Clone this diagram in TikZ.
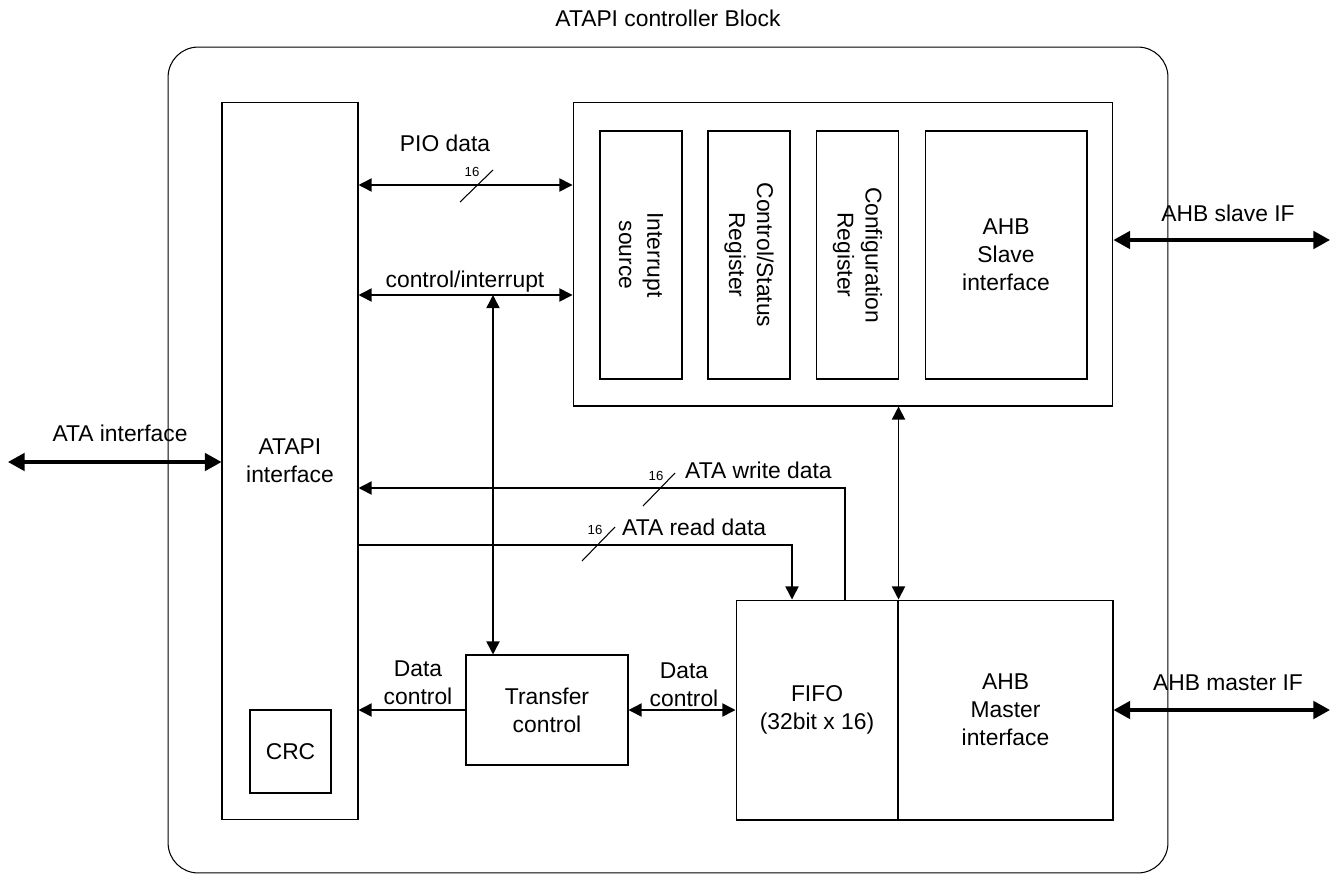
\documentclass[tikz,border=0pt]{standalone}
\usepackage{fontspec}
\setmainfont{Liberation Sans}
\usepackage{tikz}
\usetikzlibrary{arrows.meta, positioning, calc}
\usepackage{xcolor}

\tikzset{
  blk/.style={draw, line width=0.6pt, align=center, font=\fontsize{13}{16}\selectfont},
  vblk/.style={blk, rotate=-90, minimum width=4.96cm, minimum height=1.64cm},
  lbl/.style={align=center, font=\fontsize{13}{16}\selectfont},
  wid/.style={font=\fontsize{7.5}{9}\selectfont, inner sep=0pt},
  sig/.style={line width=0.9pt, -{Triangle[length=7.5pt,width=7.5pt]}},
  bisig/.style={line width=0.9pt, {Triangle[length=7.5pt,width=7.5pt]}-{Triangle[length=7.5pt,width=7.5pt]}},
  bus/.style={line width=1.9pt, {Triangle[length=9.5pt,width=10pt]}-{Triangle[length=9.5pt,width=10pt]}},
  slash/.style={line width=0.6pt}
}

\begin{document}
\begin{tikzpicture}[x=0.02cm, y=-0.02cm]
  \useasboundingbox (0,0) rectangle (1337,875);

  % controller frame
  \node[lbl] (title) at (668,18) {ATAPI controller Block};
  \node[draw, line width=0.6pt, rounded corners=0.6cm, minimum width=20cm, minimum height=16.52cm]
  (ctrl) at (668,460) {};

  % ATAPI side
  \node[blk, minimum width=2.72cm, minimum height=14.36cm]
  (atapi) at (290,461) {ATAPI\\interface};
  \node[blk, minimum width=1.62cm, minimum height=1.66cm]
  (crc) at (290.5,751.5) {CRC};

  % register block
  \node[blk, minimum width=10.8cm, minimum height=6.08cm]
  (regs) at (843,254) {};
  \node[vblk] (irq) at (641,255) {Interrupt\\source};
  \node[vblk] (csr) at (749,255) {Control/Status\\Register};
  \node[vblk] (cfg) at (857.5,255) {Configuration\\Register};
  \node[blk, minimum width=3.24cm, minimum height=4.96cm]
  (slave) at (1006,255) {AHB\\Slave\\interface};

  % data path
  \node[blk, minimum width=3.24cm, minimum height=2.2cm]
  (xfer) at (547,710) {Transfer\\control};
  \node[blk, minimum width=3.24cm, minimum height=4.4cm]
  (fifo) at (817,710) {FIFO\\(32bit x 16)};
  \node[blk, minimum width=4.3cm, minimum height=4.4cm]
  (master) at (1005.5,710) {AHB\\Master\\interface};

  % helper points
  \coordinate (pio) at (358,185);
  \coordinate (ci) at (493,295);
  \coordinate (wr) at (845,488);
  \coordinate (rd) at (792,545);
  \coordinate (ata) at (8,462);
  \coordinate (sl) at (1330,240);
  \coordinate (mi) at (1330,710);

  % PIO data
  \draw[bisig] (pio -| atapi.east) -- (pio -| regs.west);
  \node[lbl] (piol) at (445,143) {PIO data};
  \draw[slash] (460,202) -- (493,170);
  \node[wid] (piow) at (472,172) {16};

  % control/interrupt
  \draw[bisig] (ci -| atapi.east) -- (ci -| regs.west);
  \node[lbl] (cil) at (465,282) {control/interrupt};
  \draw[bisig] (ci) -- (ci |- xfer.north);

  % ATA write data
  \draw[sig] (wr |- fifo.north) -- (wr) -- (wr -| atapi.east);
  \node[lbl, anchor=west] (wrl) at (679,470) {ATA write data};
  \draw[slash] (643,506) -- (675,473);
  \node[wid] (wrw) at (656,476) {16};

  % ATA read data
  \draw[sig] (rd -| atapi.east) -- (rd) -- (rd |- fifo.north);
  \node[lbl, anchor=west] (rdl) at (616,527) {ATA read data};
  \draw[slash] (582,561) -- (615,527);
  \node[wid] (rdw) at (595,530) {16};

  % registers to AHB master
  \draw[bisig] (regs.south -| fifo.north east) -- (fifo.north east);

  % transfer control
  \draw[sig] (xfer.west) -- (xfer.west -| atapi.east);
  \node[lbl] (dcl) at (418,683) {Data\\control};
  \draw[bisig] (xfer.east) -- (fifo.west);
  \node[lbl] (dcr) at (684,685) {Data\\control};

  % external interfaces
  \draw[bus] (ata) -- (ata -| atapi.west);
  \node[lbl] (atal) at (120,433) {ATA interface};
  \draw[bus] (sl -| regs.east) -- (sl);
  \node[lbl] (sll) at (1228,213) {AHB slave IF};
  \draw[bus] (master.east) -- (mi);
  \node[lbl] (mil) at (1228,683) {AHB master IF};
\end{tikzpicture}
\end{document}
